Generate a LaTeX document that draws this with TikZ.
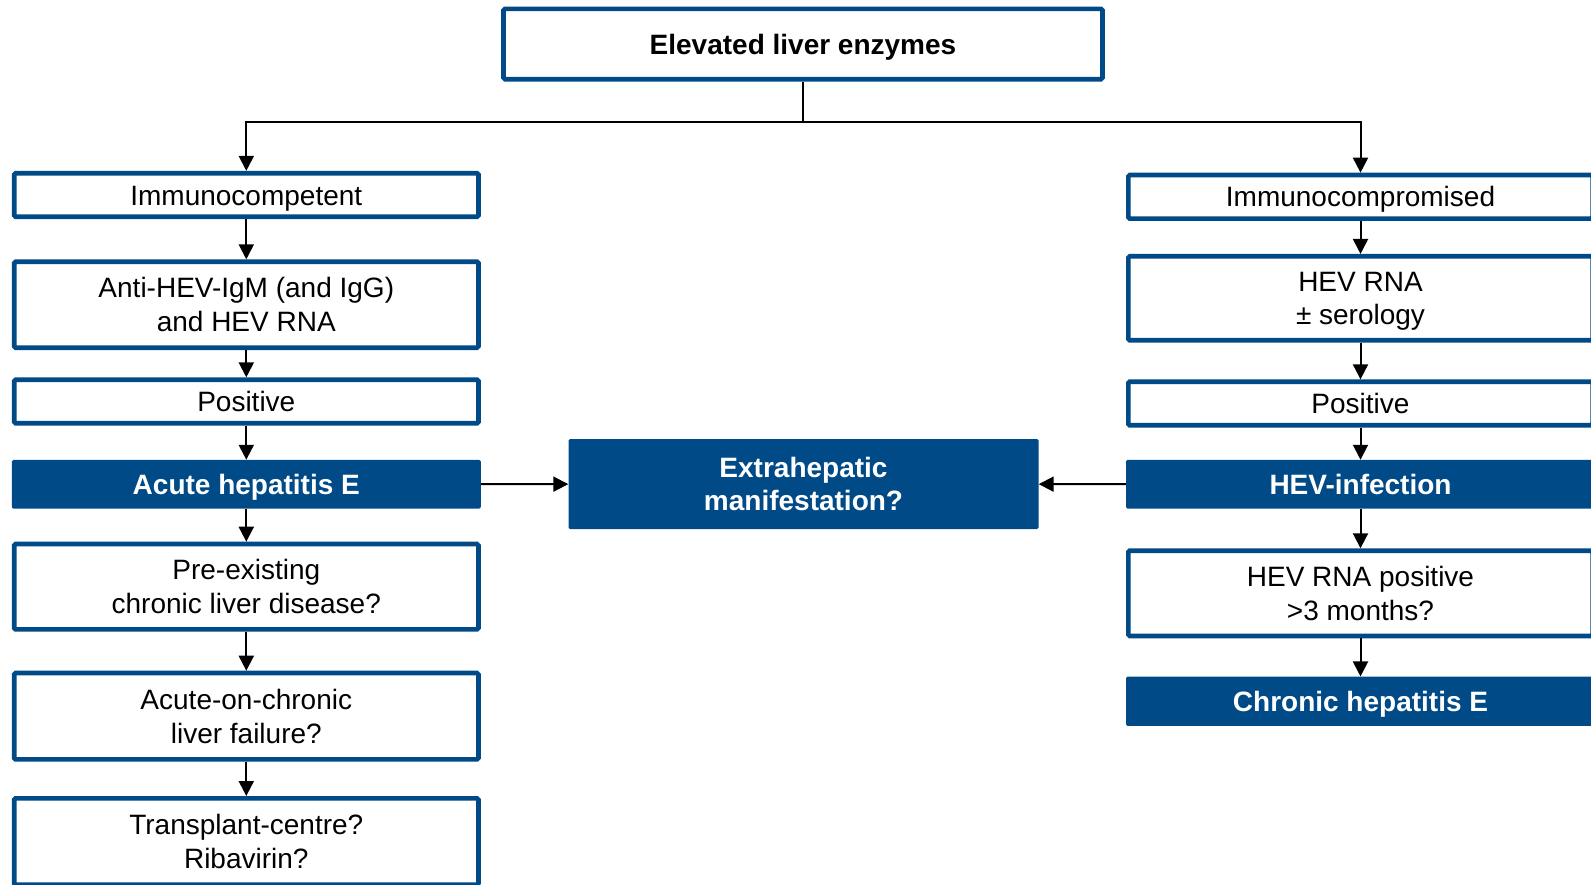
\documentclass[tikz,border=0pt]{standalone}
\usepackage{fontspec}
\setmainfont{Liberation Sans}
\usetikzlibrary{arrows.meta}
\definecolor{hevblue}{RGB}{0,74,135}
\begin{document}
\begin{tikzpicture}[x=1pt,y=-1pt,
  wbox/.style={draw=hevblue,line width=4.7pt,fill=white,rounded corners=1.5pt,
    minimum width=464.3pt,align=center,inner sep=0pt,font=\fontsize{28}{33.6}\selectfont},
  bbox/.style={fill=hevblue,text=white,rounded corners=1.5pt,minimum width=469pt,
    align=center,inner sep=0pt,font=\fontsize{28}{33.6}\selectfont\bfseries},
  one/.style={text height=20pt,text depth=0pt},
  conn/.style={line width=2pt,-{Triangle[length=15pt,width=15pt]}},
  plain/.style={line width=2pt}]
\useasboundingbox (0,0) rectangle (1591,884);
\clip (0,0) rectangle (1591,884);
% top
\node[wbox,one,minimum width=599pt,minimum height=70.3pt,font=\fontsize{28}{33.6}\selectfont\bfseries] (top) at (803,44) {Elevated liver enzymes};
% left column
\node[wbox,one,minimum height=43.6pt] (iml) at (246.3,195) {Immunocompetent};
\node[wbox,minimum height=86pt] (anti) at (246.3,304.7) {Anti-HEV-IgM (and IgG)\\and HEV RNA};
\node[wbox,one,minimum height=43.6pt] (posl) at (246.3,401.5) {Positive};
\node[bbox,one,minimum height=48.7pt] (acute) at (246.3,484.3) {Acute hepatitis E};
\node[wbox,minimum height=85.3pt] (pre) at (246.3,586.7) {Pre-existing\\chronic liver disease?};
\node[wbox,minimum height=86.3pt] (aoc) at (246.3,716.2) {Acute-on-chronic\\liver failure?};
\node[wbox,minimum height=86.3pt] (trans) at (246.3,841.5) {Transplant-centre?\\Ribavirin?};
% right column
\node[wbox,one,minimum height=43.6pt] (imr) at (1360.5,196.8) {Immunocompromised};
\node[wbox,minimum height=84pt] (rna) at (1360.5,298.3) {HEV RNA\\\smash{\textpm{} serology}};
\node[wbox,one,minimum height=43.6pt] (posr) at (1360.5,403.5) {Positive};
\node[bbox,one,minimum height=48.7pt] (inf) at (1360.5,484.3) {HEV-infection};
\node[wbox,minimum height=85.3pt] (rnapos) at (1360.5,593.3) {HEV RNA positive\\>3 months?};
\node[bbox,one,minimum height=49.3pt] (chron) at (1360.5,701.3) {Chronic hepatitis E};
% centre
\node[bbox,minimum width=470pt,minimum height=90pt] (extra) at (803.5,484) {Extrahepatic\\manifestation?};
% connectors
\coordinate (split) at (803,121.5);
\coordinate (lt) at (246.3,121.5);
\coordinate (rt) at (1360.5,121.5);
\draw[plain] (top.south) -- (split);
\draw[conn] (split) -- (lt) -- (iml.north);
\draw[conn] (split) -- (rt) -- (imr.north);
\draw[conn] (iml) -- (anti);
\draw[conn] (anti) -- (posl);
\draw[conn] (posl) -- (acute);
\draw[conn] (acute) -- (pre);
\draw[conn] (pre) -- (aoc);
\draw[conn] (aoc) -- (trans);
\draw[conn] (imr) -- (rna);
\draw[conn] (rna) -- (posr);
\draw[conn] (posr) -- (inf);
\draw[conn] (inf) -- (rnapos);
\draw[conn] (rnapos) -- (chron);
\draw[conn] (acute) -- (extra);
\draw[conn] (inf) -- (extra);
\end{tikzpicture}
\end{document}
